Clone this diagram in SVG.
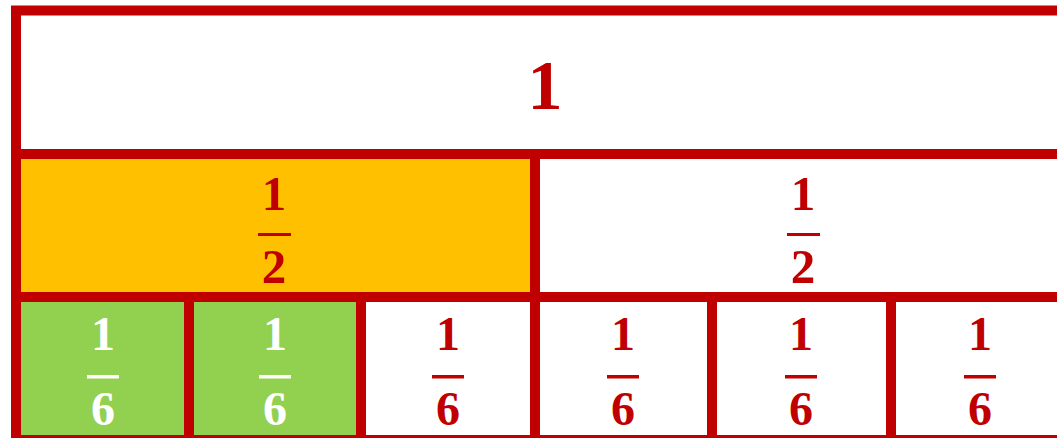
<svg xmlns="http://www.w3.org/2000/svg" width="1057" height="438" viewBox="0 0 1057 438">
<style>
.cell{stroke:#C00000;stroke-width:10}
.w{fill:#FFFFFF}
.y{fill:#FFC000}
.g{fill:#92D050}
.t{font-family:"Liberation Serif","DejaVu Serif",serif;font-weight:bold;text-anchor:middle;fill:#C00000}
.tw{fill:#FFFFFF}
.bar{fill:#C00000}
.barw{fill:#FFFFFF}
</style>
<rect x="0" y="0" width="1057" height="438" fill="#FFFFFF"/>
<g id="whole">
<rect class="cell w" x="16" y="10.5" width="1070" height="143.5"/>
<text class="t" x="545" y="109" font-size="70">1</text>
</g>
<g id="half1">
<rect class="cell y" x="16" y="154" width="519" height="143"/>
<text class="t" x="274" y="210" font-size="49">1</text>
<rect class="bar" x="258" y="233" width="33" height="3"/>
<text class="t" x="274" y="283" font-size="49">2</text>
</g>
<g id="half2">
<rect class="cell w" x="535" y="154" width="560" height="143"/>
<text class="t" x="803" y="210" font-size="49">1</text>
<rect class="bar" x="787" y="233" width="33" height="3"/>
<text class="t" x="803" y="283" font-size="49">2</text>
</g>
<g id="sixth1">
<rect class="cell g" x="16" y="297" width="173" height="143"/>
<text class="t tw" x="103" y="350" font-size="48">1</text>
<rect class="barw" x="87" y="375" width="32" height="3.5"/>
<text class="t tw" x="103" y="425" font-size="48">6</text>
</g>
<g id="sixth2">
<rect class="cell g" x="189" y="297" width="172" height="143"/>
<text class="t tw" x="275" y="350" font-size="48">1</text>
<rect class="barw" x="259" y="375" width="32" height="3.5"/>
<text class="t tw" x="275" y="425" font-size="48">6</text>
</g>
<g id="sixth3">
<rect class="cell w" x="361" y="297" width="174" height="143"/>
<text class="t" x="448" y="350" font-size="48">1</text>
<rect class="bar" x="432" y="375" width="32" height="3.5"/>
<text class="t" x="448" y="425" font-size="48">6</text>
</g>
<g id="sixth4">
<rect class="cell w" x="535" y="297" width="177" height="143"/>
<text class="t" x="623" y="350" font-size="48">1</text>
<rect class="bar" x="607" y="375" width="32" height="3.5"/>
<text class="t" x="623" y="425" font-size="48">6</text>
</g>
<g id="sixth5">
<rect class="cell w" x="712" y="297" width="179" height="143"/>
<text class="t" x="801" y="350" font-size="48">1</text>
<rect class="bar" x="785" y="375" width="32" height="3.5"/>
<text class="t" x="801" y="425" font-size="48">6</text>
</g>
<g id="sixth6">
<rect class="cell w" x="891" y="297" width="200" height="143"/>
<text class="t" x="980" y="350" font-size="48">1</text>
<rect class="bar" x="964" y="375" width="32" height="3.5"/>
<text class="t" x="980" y="425" font-size="48">6</text>
</g>
<g id="connectors"></g>
</svg>
